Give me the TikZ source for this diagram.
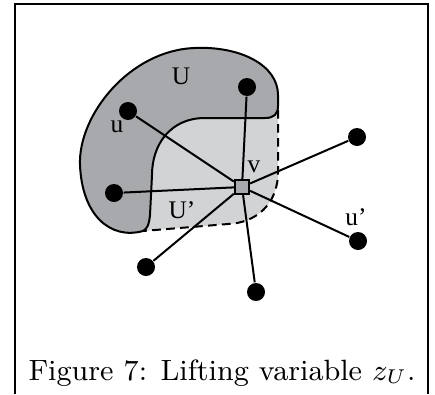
\documentclass[tikz,border=0pt]{standalone}
\usepackage{fontspec}
\newfontfamily\lblfont{Liberation Serif}
\definecolor{darkreg}{HTML}{A7A9AC}
\definecolor{lightreg}{HTML}{D1D3D4}
\begin{document}
\begin{tikzpicture}[x=0.3pt,y=-0.3pt,
  vert/.style={circle,fill=black,inner sep=0pt,minimum size=5.4pt},
  hub/.style={rectangle,draw=black,fill=darkreg,line width=0.6pt,inner sep=0pt,minimum size=4.3pt},
  edge/.style={line width=0.6pt,draw=black},
  lbl/.style={font=\lblfont\fontsize{7.6}{9}\selectfont,inner sep=0pt}]
\useasboundingbox (0,0) rectangle (435,394);
% frame
\draw[line width=0.8pt] (15,394) -- (15,4) -- (428,4) -- (428,394);
% light region U'
\fill[lightreg] (278,100) -- (278,172) .. controls (278,205) and (255,223) .. (228,224)
  -- (143,231) -- (150,215) -- (152,175) .. controls (152,145) and (170,118) .. (205,118) -- (265,118) .. controls (274,118) and (278,114) .. (278,106) -- cycle;
% dashed boundary
\draw[line width=0.6pt,dash pattern=on 2.6pt off 1.6pt] (278,110) -- (278,172) .. controls (278,205) and (255,223) .. (228,224) -- (143,231);
% dark region U
\draw[line width=0.6pt,fill=darkreg] (143,231) .. controls (110,240) and (82,215) .. (80,165)
  .. controls (78,115) and (130,50) .. (195,48)
  .. controls (240,46) and (278,65) .. (278,95)
  -- (278,106) .. controls (278,114) and (274,118) .. (265,118)
  -- (205,118) .. controls (170,118) and (152,145) .. (152,175)
  -- (150,215) .. controls (149,225) and (147,229) .. (143,231) -- cycle;
% nodes
\node[hub] (v) at (242,187) {};
\node[vert] (a) at (247,87) {};
\node[vert] (u) at (128,111) {};
\node[vert] (b) at (114,193) {};
\node[vert] (c) at (357,137) {};
\node[vert] (up) at (358,241) {};
\node[vert] (d) at (146,267) {};
\node[vert] (e) at (256,292) {};
% edges
\foreach \t in {a,u,b,c,up,d,e} \draw[edge] (v) -- (\t);
\node[hub] at (v) {};
% labels
\node[lbl] (lU) at (181,76) {U};
\node[lbl] (lu) at (117,127) {u};
\node[lbl] (lv) at (254,167) {v};
\node[lbl] (lUp) at (182,210) {U’};
\node[lbl] (lup) at (356,217) {u’};
% caption
\node[font=\fontsize{8.8}{10.5}\selectfont,inner sep=0pt,anchor=base] (cap) at (222,380) {Figure 7: Lifting variable $z_U$.};
\end{tikzpicture}
\end{document}
